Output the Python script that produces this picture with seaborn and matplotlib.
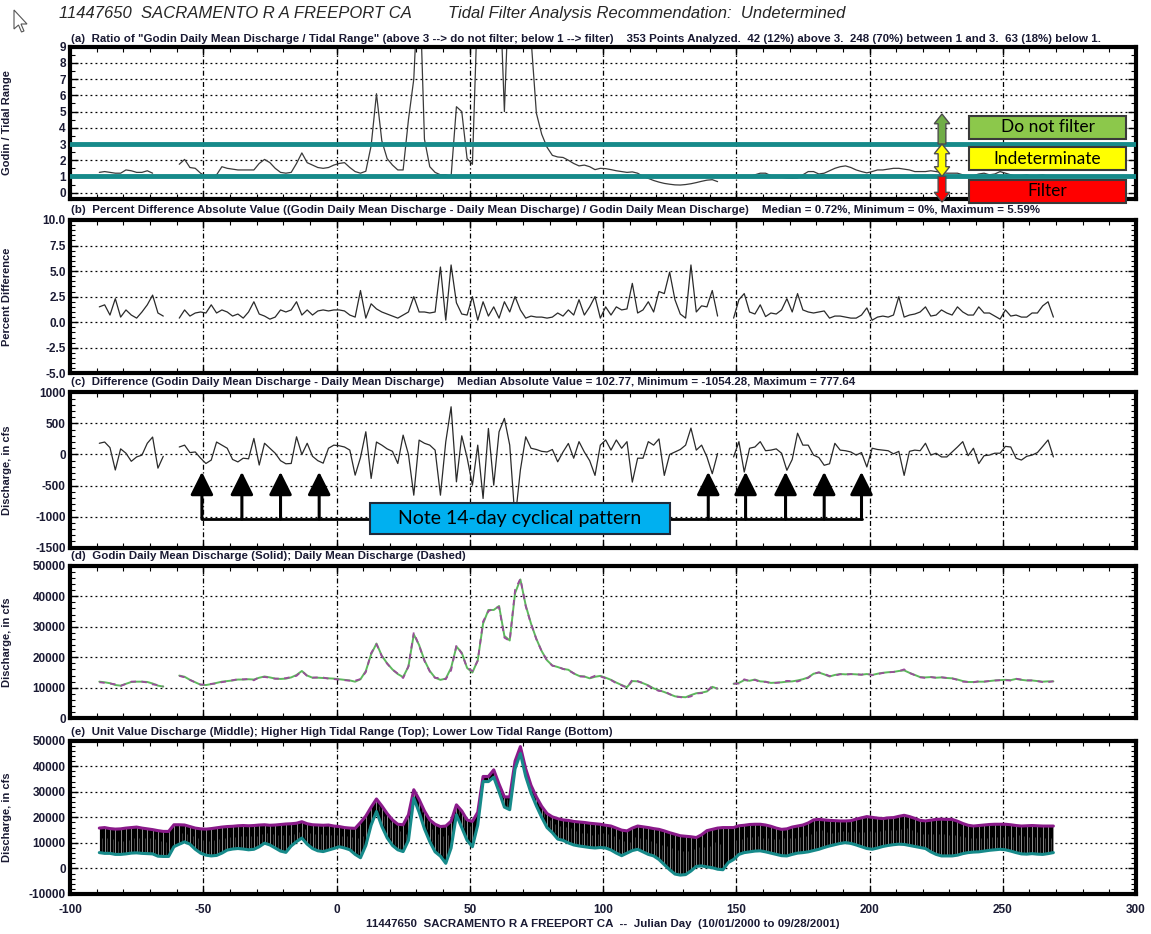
import numpy as np
import pandas as pd
import seaborn as sns
import matplotlib.pyplot as plt
from matplotlib.patches import Rectangle, Polygon
from matplotlib.ticker import MultipleLocator, FormatStrFormatter

nan = np.nan

# Julian day grid (every other day), 10/01/2000 to 09/28/2001
day = np.arange(-89, 271, 2)

# (a) Godin daily mean / tidal range
ratio = [
    1.25, 1.3, 1.25, 1.2, 1.2, 1.4, 1.35, 1.25, 1.25, 1.35,
    1.2, nan, nan, nan, nan, 1.75, 2.05, 1.55, 1.5, 1.2,
    1.0, 0.95, 1.1, 1.6, 1.5, 1.45, 1.4, 1.4, 1.4, 1.4,
    1.8, 2.05, 1.85, 1.5, 1.25, 1.2, 1.25, 1.8, 2.45, 1.85,
    1.7, 1.55, 1.5, 1.55, 1.7, 1.8, 1.85, 1.55, 1.3, 1.2,
    1.32, 2.9, 6.1, 3.2, 2.1, 1.7, 1.4, 1.4, 4.5, 7.0,
    14.0, 3.3, 1.6, 1.25, 1.1, 1.1, 1.0, 5.3, 5.0, 2.1,
    1.75, 12.0, 20.0, 25.0, 22.0, 14.0, 5.0, 14.0, 25.0, 30.0,
    18.0, 9.5, 4.9, 3.6, 2.8, 2.3, 2.2, 2.17, 2.0, 1.8,
    1.65, 1.7, 1.6, 1.42, 1.5, 1.48, 1.42, 1.35, 1.3, 1.25,
    1.28, 1.2, 1.0, 0.88, 0.75, 0.65, 0.57, 0.52, 0.48, 0.47,
    0.5, 0.55, 0.62, 0.7, 0.77, 0.8, 0.68, nan, nan, nan,
    1.0, 1.05, 1.0, 1.1, 1.2, 1.2, 1.05, 0.95, 0.95, 0.9,
    0.88, 0.9, 1.1, 1.3, 1.3, 1.15, 1.2, 1.35, 1.5, 1.6,
    1.65, 1.55, 1.4, 1.3, 1.22, 1.3, 1.4, 1.4, 1.45, 1.5,
    1.5, 1.45, 1.4, 1.3, 1.3, 1.3, 1.35, 1.3, 1.25, 1.2,
    1.2, 1.2, 1.1, 1.0, 1.05, 1.15, 1.2, 1.1, 1.15, 1.3,
    1.2, 1.1, 1.0, 1.05, 1.1, 1.0, 1.05, 1.1, 1.0, 1.05,
]

# (b) percent difference, absolute value
pct_diff = [
    1.5, 1.7, 0.7, 2.3, 0.5, 1.2, 0.7, 0.4, 1.0, 1.7,
    2.65, 0.9, 0.6, nan, nan, 0.4, 1.2, 0.6, 0.9, 1.0,
    0.9, 1.7, 0.9, 1.2, 1.0, 0.6, 0.8, 0.4, 1.0, 2.0,
    0.8, 0.6, 0.3, 0.5, 1.2, 1.0, 1.2, 2.0, 0.7, 1.2,
    0.7, 1.1, 1.2, 1.1, 1.2, 1.2, 1.1, 0.7, 0.5, 3.1,
    0.4, 1.8, 1.3, 1.0, 0.8, 0.6, 0.4, 0.7, 1.0, 2.5,
    1.0, 1.0, 0.9, 1.0, 5.4, 0.2, 5.6, 1.9, 0.8, 0.7,
    2.5, 0.2, 2.0, 0.6, 1.5, 0.4, 2.0, 1.0, 2.5, 1.2,
    0.4, 0.6, 0.5, 0.5, 0.4, 0.5, 0.9, 0.6, 1.2, 0.7,
    2.2, 0.7, 1.5, 2.5, 0.4, 1.5, 0.7, 1.5, 1.2, 1.3,
    3.8, 0.9, 1.2, 2.0, 1.0, 3.0, 2.8, 4.9, 2.2, 0.8,
    0.4, 5.6, 1.0, 1.6, 1.5, 3.1, 0.6, nan, nan, 0.4,
    2.2, 2.8, 1.0, 0.8, 1.7, 0.55, 0.9, 0.8, 1.2, 2.3,
    1.0, 2.8, 1.2, 1.0, 0.9, 1.0, 1.1, 0.4, 0.6, 0.6,
    0.5, 0.4, 0.4, 0.7, 1.4, 0.2, 0.5, 0.6, 0.5, 0.7,
    2.5, 0.5, 0.7, 0.8, 1.0, 1.5, 0.6, 0.7, 1.2, 0.9,
    0.7, 1.5, 1.0, 0.7, 0.7, 1.5, 0.9, 0.9, 0.6, 0.3,
    1.2, 0.6, 0.7, 0.5, 0.5, 0.9, 0.9, 1.6, 2.0, 0.5,
]

# (c) Godin daily mean - daily mean, cfs
diff_q = [
    180, 200, 110, -250, 90, 20, -110, -40, -10, 180,
    280, -220, -30, nan, nan, 120, 150, 30, 40, -60,
    -145, -90, 200, 150, 100, -80, -120, -60, -70, 258,
    -170, 180, 100, 20, -100, -150, -145, 284, 0, 180,
    -30, -100, -140, 100, 150, 140, 120, 70, -333, -50,
    365, -386, 200, 150, 90, 50, -145, 311, 0, -655,
    231, 180, 150, 70, -655, 204, 767, -440, 300, -50,
    -494, 150, -708, 418, -494, 365, 580, 150, -1054, -250,
    284, 100, 80, 50, 40, 80, -118, 40, 177, -60,
    206, 40, -100, -337, 150, 233, 70, 233, 100, 206,
    -445, -60, -60, 206, 150, 250, -337, 0, 40, 80,
    150, 424, 70, 150, -40, -310, 15, nan, nan, -40,
    206, -283, 100, 120, 206, 60, 70, 90, 20, -255,
    -80, 342, 150, 150, -10, -50, -174, -150, 179, 70,
    60, 40, -10, 30, -201, 100, 80, 70, 60, 10,
    50, -337, 50, 70, 60, 180, -10, 20, -40, -40,
    40, 120, 206, -20, 100, -147, -20, -10, 20, 20,
    130, 120, -60, -90, -30, -10, 30, 130, 233, -40,
]

# (d) Godin daily mean discharge, cfs
godin_q = [
    12000, 11800, 11500, 10900, 10700, 11300, 11900, 12000, 12000, 11900,
    11400, 10700, 10400, nan, nan, 14000, 13600, 12600, 11800, 11000,
    10900, 11200, 11600, 12000, 12200, 12400, 12700, 12700, 12800, 12700,
    13300, 13700, 13400, 13000, 12900, 13000, 13400, 14200, 15500, 14000,
    13300, 13300, 13200, 13100, 13000, 12800, 12600, 12400, 12000, 12800,
    15500, 21000, 24500, 20500, 18000, 16000, 14500, 13500, 17000, 27500,
    24000, 19000, 15500, 13300, 12600, 13000, 16500, 23500, 21500, 16500,
    15000, 19000, 31000, 35500, 35500, 36800, 27000, 25500, 41000, 45500,
    37000, 31000, 26000, 22000, 19000, 17300, 16800, 16200, 15900, 14700,
    13900, 13700, 13100, 13600, 13900, 13300, 12600, 11700, 10900, 10200,
    12200, 12100, 11500, 10800, 9800, 9200, 8600, 7900, 7200, 7000,
    6900, 7600, 8200, 8400, 8800, 10300, 9700, nan, nan, 11300,
    11600, 12500, 12300, 12700, 12100, 12000, 11600, 11700, 11800, 12000,
    12100, 12400, 12800, 13400, 14600, 15000, 14400, 13700, 14200, 14500,
    14400, 14500, 14400, 14300, 14500, 14200, 14600, 14900, 15100, 15200,
    15500, 15700, 14900, 14200, 13500, 13400, 13500, 13300, 13400, 13200,
    13100, 12700, 12200, 11900, 11900, 12000, 12000, 12200, 12400, 12500,
    12600, 12500, 12900, 12600, 12400, 12400, 12200, 12000, 12100, 12100,
]

# (e) higher high and lower low of the unit values, cfs
hh_q = [
    15800, 16000, 15600, 15400, 15500, 15800, 16000, 16200, 15800, 15500,
    15200, 14800, 14500, 14500, 17100, 17100, 17000, 16400, 15800, 15500,
    15400, 15600, 15900, 16200, 16400, 16500, 16700, 16800, 16700, 16800,
    17000, 17100, 16900, 17000, 17200, 17400, 17500, 17700, 18300, 17500,
    17100, 17000, 16900, 17000, 16600, 16400, 16000, 15800, 15700, 18000,
    20500, 24000, 27200, 24500, 21500, 19000, 17300, 17100, 21000, 30800,
    27000, 22500, 19000, 17300, 16400, 16600, 18500, 24900, 22500, 19000,
    18400, 22000, 36000, 36000, 38600, 33000, 28000, 28000, 42000, 47700,
    39000, 32500, 28000, 24300, 21500, 20200, 19500, 19000, 18800, 18400,
    18200, 18000, 17700, 17500, 17300, 16900, 16600, 15800, 15000, 14700,
    15800, 16600, 16300, 16000, 15600, 15300, 14700, 14000, 13400, 12800,
    12600, 12400, 12100, 13200, 14800, 15300, 15800, 16000, 16000, 16000,
    16700, 16900, 17200, 17300, 17300, 17000, 16500, 15800, 15300, 15500,
    16200, 16600, 17000, 17800, 19000, 19200, 19000, 18800, 18700, 18600,
    18600, 18700, 19300, 19800, 20300, 20000, 19700, 19500, 19800, 19900,
    20400, 20800, 20300, 19600, 18800, 18600, 18900, 19200, 19300, 19200,
    19200, 18500, 17600, 16900, 16600, 16800, 17000, 17200, 17300, 17300,
    17300, 17100, 16800, 16600, 16700, 16800, 16700, 16600, 16600, 16600,
]
ll_q = [
    6200, 5900, 5900, 5500, 5500, 5700, 6000, 6100, 5900, 5800,
    5700, 4800, 4700, 4700, 8500, 9500, 10400, 9500, 7500, 6000,
    5200, 4900, 5100, 6000, 7200, 7600, 7800, 7600, 7300, 7500,
    8500, 9900, 9200, 8000, 6800, 6300, 8800, 10500, 11900, 9500,
    7800, 6900, 6600, 7200, 7800, 8500, 8000, 7300, 5500, 4200,
    9000, 17000, 22300, 16500, 12000, 9000, 7300, 6600, 11000, 27500,
    22000, 15500, 10500, 6500, 4800, 2000, 8000, 21000, 16000, 11000,
    8500, 17000, 34000, 34000, 35700, 30000, 24000, 23000, 39000, 45000,
    36000, 29500, 24500, 20000, 16000, 14000, 11500, 11000, 10000, 9200,
    8800, 8500, 8200, 8000, 8200, 8000, 7200, 6000, 5000, 6000,
    7000, 7500, 6500, 5500, 4900, 3500, 1500, -500, -2200, -2600,
    -2400, -1000, 800, 1000, 600, 300, -300, -500, 2300, 3500,
    5500, 6200, 6500, 6800, 6900, 6500, 6000, 5500, 5000, 4900,
    5500, 6000, 6200, 6500, 7000, 7500, 8200, 8800, 9300, 9800,
    10100, 9800, 9200, 8500, 7800, 7500, 8000, 8600, 9000, 9300,
    9500, 9400, 9000, 8600, 8200, 7800, 6500, 5500, 4900, 4900,
    4900, 5200, 5800, 6200, 6400, 6500, 6800, 7100, 7300, 7500,
    7300, 6800, 6200, 5700, 5600, 5800, 5600, 5500, 5800, 6200,
]

# days marked in panel (c) as the 14-day cycle
cycle_days = [-50.5, -35.5, -21, -6.5, 139.5, 153.5, 168.5, 183, 197]

df = pd.DataFrame({"day": day, "ratio": ratio, "pct": pct_diff, "diff": diff_q,
                   "godin": godin_q, "hh": hh_q, "ll": ll_q})
df["daily"] = df["godin"] - df["diff"]

sns.set_theme(style="ticks")
plt.rcParams["font.family"] = ["Liberation Sans", "DejaVu Sans"]
plt.rcParams["font.weight"] = "bold"
plt.rcParams["axes.unicode_minus"] = False

txt = "#1a1a33"
teal = "#168a8a"
purple = "#8a1a8a"
W, H = 1151, 934

fig = plt.figure(figsize=(W / 100, H / 100), dpi=100)
spans = [(46.7, 199.3), (220, 373.3), (392.3, 547.7), (565.7, 718.3), (740.7, 894)]
axes = [fig.add_axes([70 / W, 1 - b / H, 1066 / W, (b - t) / H]) for t, b in spans]
ax_a, ax_b, ax_c, ax_d, ax_e = axes


def segs(col):
    # one line per run of data, so gaps stay open
    sub = df[["day", col]].copy()
    sub["seg"] = sub[col].isna().cumsum()
    return sub.dropna()


def frame(ax, ylim, major, minor, ylabel, fmt=None):
    ax.set_xlim(-100, 300)
    ax.set_ylim(*ylim)
    ax.xaxis.set_major_locator(MultipleLocator(50))
    ax.xaxis.set_minor_locator(MultipleLocator(10))
    ax.yaxis.set_major_locator(MultipleLocator(major))
    ax.yaxis.set_minor_locator(MultipleLocator(minor))
    if fmt:
        ax.yaxis.set_major_formatter(FormatStrFormatter(fmt))
    ax.tick_params(which="both", direction="in", top=True, right=True,
                   color="black", labelcolor=txt, labelsize=8.5, pad=3)
    ax.tick_params(which="major", length=6, width=1)
    ax.tick_params(which="minor", length=3.5, width=0.8)
    ax.grid(True, axis="y", which="major", color="black", lw=0.9, ls=(0, (1.5, 2.5)))
    ax.grid(True, axis="x", which="major", color="black", lw=0.9, ls=(0, (4, 2, 1, 2)))
    ax.set_axisbelow(True)
    for s in ax.spines.values():
        s.set_linewidth(3)
        s.set_color("black")
    ax.set_ylabel(ylabel, fontsize=8, fontweight="bold", color=txt)
    ax.yaxis.set_label_coords(-0.0545, 0.5)
    ax.set_xlabel("")


def arrow_pts(x, y0, y1, w, hw, hl, both=False):
    s = np.sign(y1 - y0)
    pts = []
    if both:
        pts += [(x, y0), (x + hw / 2, y0 + s * hl), (x + w / 2, y0 + s * hl)]
    else:
        pts += [(x + w / 2, y0)]
    pts += [(x + w / 2, y1 - s * hl), (x + hw / 2, y1 - s * hl), (x, y1),
            (x - hw / 2, y1 - s * hl), (x - w / 2, y1 - s * hl)]
    if both:
        pts += [(x - w / 2, y0 + s * hl), (x - hw / 2, y0 + s * hl)]
    else:
        pts += [(x - w / 2, y0)]
    return pts


# (a)
sns.lineplot(data=segs("ratio"), x="day", y="ratio", units="seg", estimator=None,
             color="#3a3a3a", lw=0.9, legend=False, ax=ax_a)
ax_a.axhline(1, color=teal, lw=3.5, zorder=4)
ax_a.axhline(3, color=teal, lw=3.5, zorder=4)
frame(ax_a, (-0.41, 9), 1, 0.5, "Godin / Tidal Range")
for (y0, y1, both, fc) in [(3, 4.85, False, "#70ad47"), (1, 3, True, "#ffff00"),
                           (1, -0.58, False, "#ff0000")]:
    ax_a.add_patch(Polygon(arrow_pts(227.2, y0, y1, 2.9, 5.8, 0.6, both), closed=True,
                           fc=fc, ec="#4d4d4d", lw=1, zorder=6, clip_on=False))
for (lo, hi, fc, label) in [(3.32, 4.72, "#8cc84b", "Do not filter"),
                            (1.41, 2.80, "#ffff00", "Indeterminate"),
                            (-0.62, 0.79, "#ff0000", "Filter")]:
    ax_a.add_patch(Rectangle((237.3, lo), 59, hi - lo, fc=fc, ec="#3a3a3a", lw=1.5,
                             zorder=6, clip_on=False))
    ax_a.text(266.8, (lo + hi) / 2, label, ha="center", va="center", fontsize=12.5,
              family=["Lato", "DejaVu Sans"], fontweight="normal", color="black", zorder=7)

# (b)
sns.lineplot(data=segs("pct"), x="day", y="pct", units="seg", estimator=None,
             color="#2a2a2a", lw=0.9, legend=False, ax=ax_b)
frame(ax_b, (-5, 10), 2.5, 0.5, "Percent Difference", "%.1f")

# (c)
sns.lineplot(data=segs("diff"), x="day", y="diff", units="seg", estimator=None,
             color="#2a2a2a", lw=0.9, legend=False, ax=ax_c)
frame(ax_c, (-1500, 1000), 500, 100, "Discharge, in cfs")
ax_c.plot([cycle_days[0], cycle_days[-1]], [-1040, -1040], color="black", lw=2, zorder=5)
for d in cycle_days:
    ax_c.annotate("", xy=(d, -280), xytext=(d, -1040),
                  arrowprops=dict(arrowstyle="-|>,head_length=0.7,head_width=0.35",
                                  mutation_scale=20, lw=2.2, color="black",
                                  shrinkA=0, shrinkB=0), zorder=5)
ax_c.add_patch(Rectangle((12.5, -1284), 112.7, 498, fc="#00b0f0", ec="#1f2a3a",
                         lw=1.5, zorder=6))
ax_c.text(68.8, -1035, "Note 14-day cyclical pattern", ha="center", va="center",
          fontsize=14, family=["Lato", "DejaVu Sans"], fontweight="normal",
          color="black", zorder=7)

# (d)
sns.lineplot(data=segs("godin"), x="day", y="godin", units="seg", estimator=None,
             color="#5cb85c", lw=1.4, legend=False, ax=ax_d)
sns.lineplot(data=segs("daily"), x="day", y="daily", units="seg", estimator=None,
             color="#9a4c9a", lw=1.3, linestyle=(0, (3, 3)), legend=False, ax=ax_d)
frame(ax_d, (0, 50000), 10000, 2000, "Discharge, in cfs")

# (e) unit values swing between the two envelopes
ax_e.fill_between(df["day"], df["ll"], df["hh"], color="black", lw=0, zorder=2)
ax_e.vlines(df["day"], df["ll"], df["hh"], color="white", lw=0.7, alpha=0.55, zorder=2)
ax_e.vlines(df["day"] + 1, df["ll"], df["godin"], color="white", lw=0.5, alpha=0.35, zorder=2)
sns.lineplot(data=segs("hh"), x="day", y="hh", units="seg", estimator=None,
             color=purple, lw=2.2, legend=False, ax=ax_e, zorder=3)
sns.lineplot(data=segs("ll"), x="day", y="ll", units="seg", estimator=None,
             color=teal, lw=2.2, legend=False, ax=ax_e, zorder=3)
frame(ax_e, (-10000, 50000), 10000, 2000, "Discharge, in cfs")

for ax in axes[:-1]:
    ax.tick_params(labelbottom=False)
ax_e.tick_params(axis="x", pad=7)

# titles and panel captions
fig.text(59 / W, 1 - 13.3 / H, "11447650  SACRAMENTO R A FREEPORT CA", fontsize=12,
         style="italic", fontweight="normal", color="#262626", va="center")
fig.text(448 / W, 1 - 13.3 / H, "Tidal Filter Analysis Recommendation:  Undetermined",
         fontsize=12, style="italic", fontweight="normal", color="#262626", va="center")
captions = [
    (39.3, '(a)  Ratio of "Godin Daily Mean Discharge / Tidal Range" (above 3 --> do not filter; '
           'below 1 --> filter)    353 Points Analyzed.  42 (12%) above 3.  248 (70%) between 1 and 3.  '
           '63 (18%) below 1.'),
    (210, "(b)  Percent Difference Absolute Value ((Godin Daily Mean Discharge - Daily Mean Discharge) / "
          "Godin Daily Mean Discharge)    Median = 0.72%, Minimum = 0%, Maximum = 5.59%"),
    (382.3, "(c)  Difference (Godin Daily Mean Discharge - Daily Mean Discharge)    "
            "Median Absolute Value = 102.77, Minimum = -1054.28, Maximum = 777.64"),
    (555.7, "(d)  Godin Daily Mean Discharge (Solid); Daily Mean Discharge (Dashed)"),
    (731.7, "(e)  Unit Value Discharge (Middle); Higher High Tidal Range (Top); "
            "Lower Low Tidal Range (Bottom)"),
]
for y, s in captions:
    fig.text(71 / W, 1 - y / H, s, fontsize=8.25, color=txt, va="center")
fig.text(603 / W, 1 - 924 / H,
         "11447650  SACRAMENTO R A FREEPORT CA  --  Julian Day  (10/01/2000 to 09/28/2001)",
         fontsize=8.25, color=txt, ha="center", va="center")

# screen pointer left in the corner of the capture
cursor = [(14, 10), (14, 29), (18.5, 25), (21.5, 32), (24, 31), (21, 24), (27, 24)]
fig.patches.append(Polygon([(x / W, 1 - y / H) for x, y in cursor], closed=True,
                           fc="white", ec="#555555", lw=0.8, transform=fig.transFigure))

fig.savefig("out.png", dpi=100)
